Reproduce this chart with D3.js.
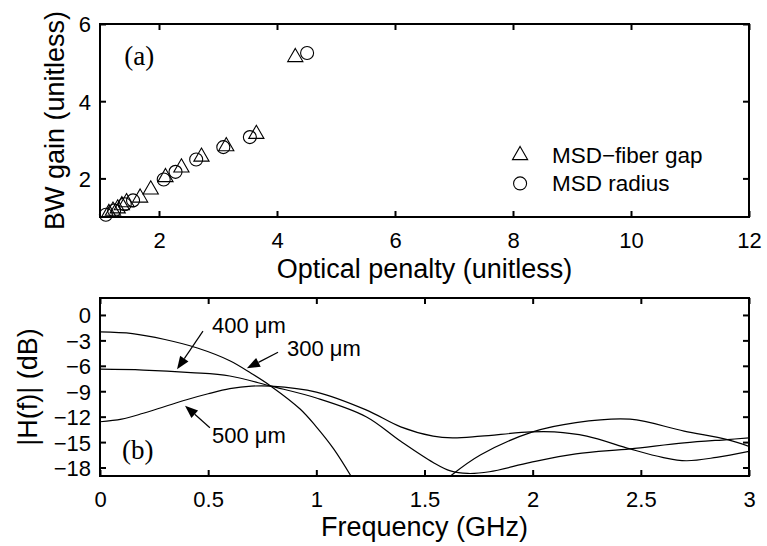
<!DOCTYPE html>
<html>
<head>
<meta charset="utf-8">
<script src="https://cdn.jsdelivr.net/npm/d3@7"></script>
<style>
  body { margin: 0; background: #fff; }
  text { font-family: "Liberation Sans", Arial, sans-serif; fill: #000; }
  .serif { font-family: "Liberation Serif", "Times New Roman", serif; }
</style>
</head>
<body>
<script>
// panel (a): BW gain vs optical penalty
var gapX = [1.15, 1.22, 1.3, 1.37, 1.45, 1.68, 1.86, 2.11, 2.38, 2.72, 3.14, 3.65, 4.31];
var gapY = [1.1, 1.16, 1.22, 1.3, 1.38, 1.5, 1.71, 2.03, 2.28, 2.56, 2.83, 3.15, 5.14];
var radX = [1.1, 1.24, 1.42, 1.56, 2.08, 2.28, 2.63, 3.09, 3.54, 4.51];
var radY = [1.06, 1.17, 1.33, 1.43, 1.97, 2.17, 2.49, 2.81, 3.07, 5.25];
var xTicksA = [2, 4, 6, 8, 10, 12];
var yTicksA = [2, 4, 6];

// panel (b): |H(f)| in dB
var f300 = [0, 0.15, 0.3, 0.45, 0.6, 0.7, 0.79, 0.925, 1.0, 1.08, 1.16];
var h300 = [-2.0, -2.2, -2.9, -3.9, -5.4, -6.9, -8.4, -11.1, -13.2, -15.8, -19.0];
var f300b = [1.62, 1.76, 2.0, 2.2, 2.45, 2.7, 2.9, 3.0];
var h300b = [-19.0, -16.5, -13.8, -12.7, -12.3, -13.7, -14.7, -15.5];
var f400 = [0, 0.2, 0.42, 0.6, 0.79, 1.0, 1.23, 1.39, 1.54, 1.62, 1.7, 1.8, 1.99, 2.2, 2.45, 2.7, 2.9, 3.0];
var h400 = [-6.4, -6.5, -6.8, -7.2, -8.4, -9.8, -12.0, -14.9, -17.4, -18.4, -18.7, -18.5, -17.4, -16.4, -15.8, -15.1, -14.7, -14.5];
var f500 = [0, 0.1, 0.2, 0.3, 0.4, 0.5, 0.6, 0.7, 0.79, 1.0, 1.23, 1.39, 1.54, 1.63, 1.76, 1.99, 2.1, 2.25, 2.45, 2.6, 2.71, 2.85, 3.0];
var h500 = [-12.6, -12.3, -11.6, -10.8, -10.0, -9.3, -8.7, -8.4, -8.4, -9.1, -11.2, -13.2, -14.3, -14.5, -14.3, -13.8, -13.8, -14.3, -15.8, -16.8, -17.2, -16.8, -16.1];
var xTicksB = [0, 0.5, 1, 1.5, 2, 2.5, 3];
var yTicksB = [0, -3, -6, -9, -12, -15, -18];

var W = 767, H = 546;
var svg = d3.select('body').append('svg')
  .attr('width', W)
  .attr('height', H);
svg.append('rect').attr('width', W).attr('height', H).attr('fill', '#fff');

var left = 100, right = 749;
var xa = d3.scaleLinear().domain([1, 12]).range([left, right]);
var ya = d3.scaleLinear().domain([1, 6]).range([217, 24]);
var xb = d3.scaleLinear().domain([0, 3]).range([left, right]);
var yb = d3.scaleLinear().domain([-19, 2]).range([476, 298]);

var fmt = function (d) { return String(d).replace('-', '\u2212'); };

function frame(x, y, xt, yt, xlabel, ylabel, xlabY, ylabX) {
  var x0 = x.range()[0], x1 = x.range()[1], y0 = y.range()[0], y1 = y.range()[1];
  var g = svg.append('g');
  g.append('g').attr('transform', 'translate(0,' + y0 + ')')
    .call(d3.axisBottom(x).tickValues(xt).tickFormat(fmt).tickSize(-6).tickSizeOuter(0).tickPadding(15));
  g.append('g').attr('transform', 'translate(0,' + y1 + ')')
    .call(d3.axisTop(x).tickValues(xt).tickFormat('').tickSize(-6).tickSizeOuter(0));
  var lft = g.append('g').attr('transform', 'translate(' + x0 + ',0)')
    .call(d3.axisLeft(y).tickValues(yt).tickFormat(fmt).tickSize(-6).tickSizeOuter(0).tickPadding(9));
  g.append('g').attr('transform', 'translate(' + x1 + ',0)')
    .call(d3.axisRight(y).tickValues(yt).tickFormat('').tickSize(-6).tickSizeOuter(0));
  g.selectAll('.domain').remove();
  g.selectAll('.tick line').attr('stroke', '#000').attr('stroke-width', 2);
  g.selectAll('.tick text').attr('font-size', 22).attr('font-family', '"Liberation Sans", Arial, sans-serif');
  lft.selectAll('.tick text').attr('dy', '0.36em');
  g.append('rect')
    .attr('x', x0).attr('y', y1)
    .attr('width', x1 - x0).attr('height', y0 - y1)
    .attr('fill', 'none').attr('stroke', '#000').attr('stroke-width', 2);
  svg.append('text')
    .attr('x', (x0 + x1) / 2).attr('y', xlabY)
    .attr('text-anchor', 'middle').attr('font-size', 27)
    .text(xlabel);
  svg.append('text')
    .attr('transform', 'translate(' + ylabX + ',' + (y0 + y1) / 2 + ') rotate(-90)')
    .attr('text-anchor', 'middle').attr('font-size', 27)
    .text(ylabel);
}

// ---- panel (a)
frame(xa, ya, xTicksA, yTicksA, 'Optical penalty (unitless)', 'BW gain (unitless)', 278, 64);

var tri = d3.symbol().type(d3.symbolTriangle).size(100);
var gapPts = gapX.map(function (d, i) { return [d, gapY[i]]; });
var radPts = radX.map(function (d, i) { return [d, radY[i]]; });

svg.append('g').selectAll('path').data(gapPts).enter().append('path')
  .attr('d', tri)
  .attr('transform', function (d) { return 'translate(' + xa(d[0]) + ',' + ya(d[1]) + ')'; })
  .attr('fill', 'none').attr('stroke', '#000').attr('stroke-width', 1.1);
svg.append('g').selectAll('circle').data(radPts).enter().append('circle')
  .attr('cx', function (d) { return xa(d[0]); })
  .attr('cy', function (d) { return ya(d[1]); })
  .attr('r', 6.5)
  .attr('fill', 'none').attr('stroke', '#000').attr('stroke-width', 1.1);

svg.append('text').attr('class', 'serif')
  .attr('x', xa(1.41)).attr('y', ya(4.94))
  .attr('font-size', 27).text('(a)');

// legend
svg.append('path').attr('d', tri)
  .attr('transform', 'translate(' + xa(8.12) + ',' + ya(2.6) + ')')
  .attr('fill', 'none').attr('stroke', '#000').attr('stroke-width', 1.1);
svg.append('circle').attr('cx', xa(8.12)).attr('cy', ya(1.87)).attr('r', 6.5)
  .attr('fill', 'none').attr('stroke', '#000').attr('stroke-width', 1.1);
svg.append('text').attr('x', xa(8.66)).attr('y', ya(2.6) + 8)
  .attr('font-size', 22.5).text('MSD\u2212fiber gap');
svg.append('text').attr('x', xa(8.66)).attr('y', ya(1.87) + 8)
  .attr('font-size', 22.5).text('MSD radius');

// ---- panel (b)
frame(xb, yb, xTicksB, yTicksB, 'Frequency (GHz)', '|H(f)| (dB)', 536, 37);

svg.append('clipPath').attr('id', 'clipb').append('rect')
  .attr('x', left).attr('y', 298).attr('width', right - left).attr('height', 178);

var line = d3.line()
  .x(function (d) { return xb(d[0]); })
  .y(function (d) { return yb(d[1]); })
  .curve(d3.curveCatmullRom.alpha(0.5));

var curves = [[f300, h300], [f300b, h300b], [f400, h400], [f500, h500]];
svg.append('g').attr('clip-path', 'url(#clipb)')
  .selectAll('path').data(curves).enter().append('path')
  .attr('d', function (c) { return line(c[0].map(function (f, i) { return [f, c[1][i]]; })); })
  .attr('fill', 'none').attr('stroke', '#000').attr('stroke-width', 1.2);

// annotations: label, then arrow tail -> tip, in data units
var notes = [
  { text: '400 \u03bcm', at: [0.518, -2.1], from: [0.476, -1.9], to: [0.356, -6.42] },
  { text: '300 \u03bcm', at: [0.864, -4.8], from: [0.823, -4.4], to: [0.679, -6.3] },
  { text: '500 \u03bcm', at: [0.518, -15.05], from: [0.508, -13.3], to: [0.393, -10.7] }
];
notes.forEach(function (n) {
  svg.append('text').attr('x', xb(n.at[0])).attr('y', yb(n.at[1]))
    .attr('font-size', 22).text(n.text);
  var x1 = xb(n.from[0]), y1 = yb(n.from[1]), x2 = xb(n.to[0]), y2 = yb(n.to[1]);
  var dx = x2 - x1, dy = y2 - y1, len = Math.sqrt(dx * dx + dy * dy);
  var ux = dx / len, uy = dy / len, hl = 13, hw = 5;
  var bx = x2 - ux * hl, by = y2 - uy * hl;
  svg.append('line').attr('x1', x1).attr('y1', y1).attr('x2', bx).attr('y2', by)
    .attr('stroke', '#000').attr('stroke-width', 1.2);
  svg.append('path')
    .attr('d', 'M' + x2 + ',' + y2 + 'L' + (bx - uy * hw) + ',' + (by + ux * hw) +
      'L' + (bx + uy * hw) + ',' + (by - ux * hw) + 'Z')
    .attr('fill', '#000');
});

svg.append('text').attr('class', 'serif')
  .attr('x', xb(0.102)).attr('y', yb(-17.0))
  .attr('font-size', 27).text('(b)');
</script>
</body>
</html>
